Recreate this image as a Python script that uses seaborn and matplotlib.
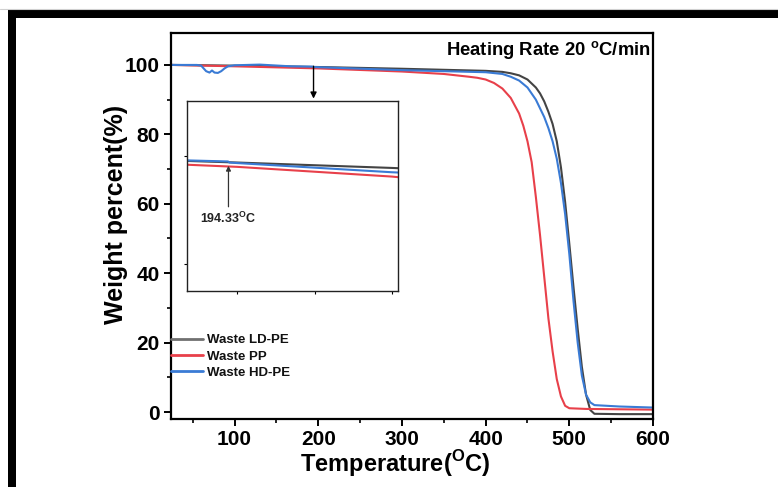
import numpy as np
import pandas as pd
import matplotlib
matplotlib.use("Agg")
import matplotlib.pyplot as plt
from matplotlib.patches import Rectangle
from matplotlib.lines import Line2D
from matplotlib.ticker import MultipleLocator
import seaborn as sns

# ---------------- data ----------------
ld_temp = [25, 100, 167, 200, 300, 350, 400, 420, 430, 440, 450, 460, 465, 470, 475,
           480, 485, 490, 495, 500, 505, 510, 515, 520, 525, 530, 560, 600]
ld_wt = [100.0, 99.8, 99.55, 99.4, 98.9, 98.6, 98.3, 98.0, 97.6, 97.0, 95.8, 93.5, 91.8, 89.5, 86.5,
         83.0, 78.0, 70.5, 60.5, 48.5, 36.0, 24.0, 13.0, 5.0, 0.6, -0.5, -0.6, -0.6]

pp_temp = [25, 100, 167, 200, 300, 350, 380, 390, 400, 410, 420, 430, 440, 445, 450, 455,
           460, 465, 470, 475, 480, 485, 490, 495, 500, 520, 600]
pp_wt = [100.0, 99.6, 99.2, 99.0, 98.1, 97.4, 96.6, 96.3, 95.8, 94.8, 93.2, 90.5, 86.0, 82.5, 78.0, 72.0,
         62.0, 51.0, 39.0, 27.0, 17.5, 9.5, 4.5, 1.8, 1.1, 0.9, 0.7]

hd_temp = [25, 55, 60, 63, 66, 70, 73, 76, 80, 84, 88, 92, 100, 130, 167, 194, 195, 200, 300, 350,
           400, 420, 430, 440, 450, 460, 470, 475, 480, 485, 490, 495, 500, 505, 510, 515, 520,
           525, 530, 560, 600]
hd_wt = [100.0, 100.0, 99.8, 99.0, 98.2, 97.8, 98.4, 97.8, 97.7, 98.2, 99.0, 99.6, 99.9, 100.1, 99.6,
         99.5, 99.4, 99.35, 98.5, 98.2, 97.9, 97.4, 96.6, 95.5, 93.5, 90.0, 85.0, 81.8, 78.0, 73.0,
         66.0, 57.0, 45.5, 32.0, 20.0, 10.5, 5.0, 2.8, 2.0, 1.6, 1.3]

series_names = ["Waste LD-PE", "Waste PP", "Waste HD-PE"]
series_colors = ["#444444", "#e8404a", "#3a7bd5"]
x_ticks = [100, 200, 300, 400, 500, 600]
y_ticks = [0, 20, 40, 60, 80, 100]
onset_temp = 194.33

df = pd.concat([
    pd.DataFrame({"Temperature": ld_temp, "Weight": ld_wt, "Sample": series_names[0]}),
    pd.DataFrame({"Temperature": pp_temp, "Weight": pp_wt, "Sample": series_names[1]}),
    pd.DataFrame({"Temperature": hd_temp, "Weight": hd_wt, "Sample": series_names[2]}),
], ignore_index=True)
palette = dict(zip(series_names, series_colors))

# ---------------- style ----------------
sns.set_style("ticks")
plt.rcParams["font.family"] = ["Liberation Sans", "DejaVu Sans"]
plt.rcParams["font.weight"] = "bold"
plt.rcParams["mathtext.fontset"] = "custom"
plt.rcParams["mathtext.rm"] = "Liberation Sans"
plt.rcParams["mathtext.bf"] = "Liberation Sans:bold"
plt.rcParams["axes.linewidth"] = 1.6
plt.rcParams["axes.edgecolor"] = "black"
plt.rcParams["xtick.color"] = "black"
plt.rcParams["ytick.color"] = "black"
plt.rcParams["text.color"] = "black"
plt.rcParams["axes.labelcolor"] = "black"

fig = plt.figure(figsize=(7.78, 4.87), dpi=100)
fig.patch.set_facecolor("white")

# black frame (left and top) and faint gray line above
fig.patches.append(Rectangle((8 / 778, 0), 8 / 778, 1 - 10 / 487, transform=fig.transFigure,
                             facecolor="black", edgecolor="none"))
fig.patches.append(Rectangle((8 / 778, 1 - 18 / 487), 1 - 8 / 778, 8 / 487, transform=fig.transFigure,
                             facecolor="black", edgecolor="none"))
fig.lines.append(Line2D([0, 1], [1 - 9 / 487, 1 - 9 / 487], transform=fig.transFigure,
                        color="#d0d0d0", lw=0.8))

ax = fig.add_axes([171 / 778, 1 - 419 / 487, (653 - 171) / 778, (419 - 33) / 487])
sns.lineplot(data=df, x="Temperature", y="Weight", hue="Sample", palette=palette,
             hue_order=series_names, estimator=None, sort=False, linewidth=1.5, ax=ax)
ax.set_xlim(24, 600)
ax.set_ylim(-2, 109.2)
ax.set_xticks(x_ticks)
ax.set_yticks(y_ticks)
ax.xaxis.set_minor_locator(MultipleLocator(50))
ax.yaxis.set_minor_locator(MultipleLocator(10))
ax.tick_params(which="major", direction="out", length=5, width=1.4, labelsize=15, pad=3,
               colors="black")
ax.tick_params(which="minor", direction="out", length=3, width=1.2, colors="black")
for lbl in ax.get_xticklabels() + ax.get_yticklabels():
    lbl.set_fontweight("bold")
ax.set_xlabel(r"Temperature($^{\bf O}$C)", fontsize=17, fontweight="bold", labelpad=0)
ax.set_ylabel("Weight percent(%)", fontsize=18, fontweight="bold", labelpad=4)
ax.xaxis.set_label_coords(0.465, -0.075)
ax.yaxis.set_label_coords(-0.09, 0.53)
for s in ax.spines.values():
    s.set_visible(True)
    s.set_linewidth(1.6)
    s.set_color("black")

leg = ax.legend(loc="upper left", bbox_to_anchor=(0.0, 0.22), frameon=False, fontsize=9.5,
                handlelength=2.4, handletextpad=0.35, labelspacing=0.3, borderpad=0,
                borderaxespad=0)
for t in leg.get_texts():
    t.set_fontweight("bold")
    t.set_color("#111111")
for h in leg.get_lines():
    h.set_linewidth(2.0)
leg.get_lines()[0].set_color("#707070")

ax.text(0.995, 0.985, r"Heating Rate 20 $^{\bf o}$C/min", transform=ax.transAxes,
        ha="right", va="top", fontsize=13.3, fontweight="bold")

ax.annotate("", xy=(onset_temp, 90.3), xytext=(onset_temp, 99.6),
            arrowprops=dict(arrowstyle="-|>", color="black", lw=1.0, mutation_scale=9,
                            shrinkA=0, shrinkB=0))

# ---------------- inset ----------------
axin = fig.add_axes([187 / 778, 1 - 291 / 487, (398 - 187) / 778, (291 - 101) / 487])
sns.lineplot(data=df, x="Temperature", y="Weight", hue="Sample", palette=palette,
             hue_order=series_names, estimator=None, sort=False, linewidth=1.5, ax=axin,
             legend=False)
axin.set_xlim(167.5, 304)
axin.set_ylim(87.5, 105.1)
axin.set_xticks([200, 250, 300])
axin.set_yticks([90, 100])
axin.set_xticklabels([])
axin.set_yticklabels([])
axin.set_xlabel("")
axin.set_ylabel("")
axin.tick_params(direction="out", length=2.5, width=0.8)
for s in axin.spines.values():
    s.set_visible(True)
    s.set_linewidth(1.0)
    s.set_color("#222222")
axin.annotate("", xy=(onset_temp, 99.1), xytext=(onset_temp, 95.3),
              arrowprops=dict(arrowstyle="-|>", color="#333333", lw=0.9, mutation_scale=7,
                              shrinkA=0, shrinkB=0))
axin.text(176.0, 94.9, r"194.33$^{\bf O}$C", ha="left", va="top", fontsize=9, fontweight="bold",
          color="#222222")

fig.savefig("out.png", dpi=100, facecolor="white")
